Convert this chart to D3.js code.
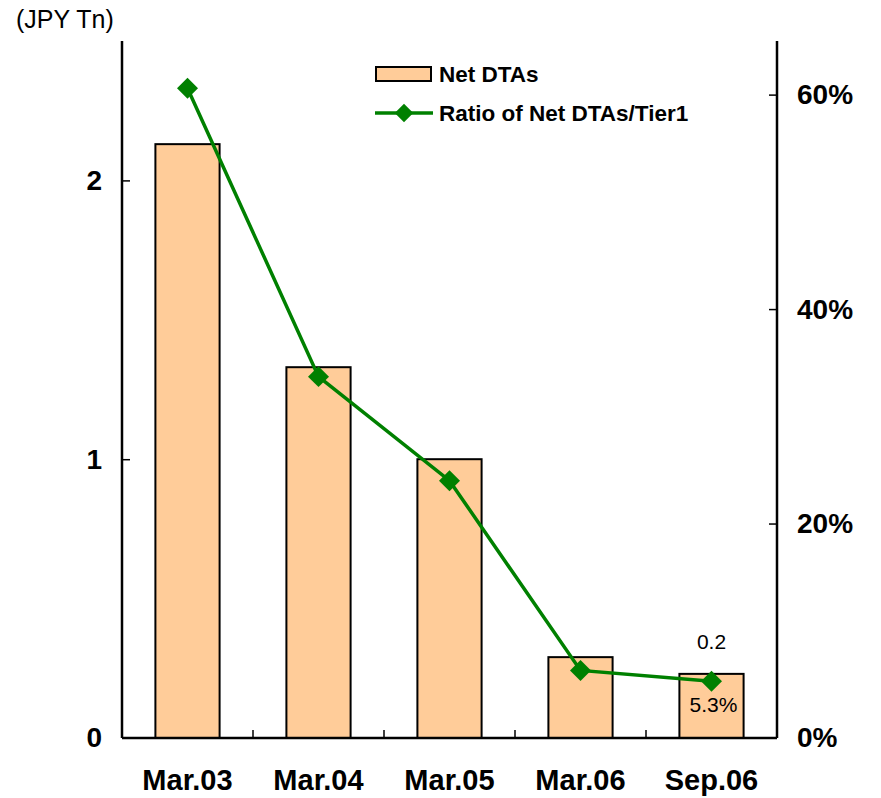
<!DOCTYPE html>
<html>
<head>
<meta charset="utf-8">
<script src="https://cdn.jsdelivr.net/npm/d3@7"></script>
<style>
	body { margin: 0; background: #fff; }
	svg { font-family: 'Liberation Sans', Arial, sans-serif; }
</style>
</head>
<body>
<div id="chart"></div>
<script>
const periods = ['Mar.03', 'Mar.04', 'Mar.05', 'Mar.06', 'Sep.06'];
const netDTAs = [2.13, 1.33, 1.0, 0.29, 0.23];
const ratioTier1 = [60.6, 33.7, 24.0, 6.3, 5.3];
const leftTicks = [0, 1, 2];
const rightTicks = [0, 20, 40, 60];

const width = 881;
const height = 798;
const margin = { top: 41, right: 104, bottom: 60, left: 122 };

const svg = d3
	.select('#chart')
	.append('svg')
	.attr('width', width)
	.attr('height', height);

const x = d3
	.scaleBand()
	.domain(periods)
	.range([margin.left, width - margin.right])
	.paddingInner(0.51)
	.paddingOuter(0.255);

const yLeft = d3
	.scaleLinear()
	.domain([0, 2.5])
	.range([height - margin.bottom, margin.top]);

const yRight = d3
	.scaleLinear()
	.domain([0, 65])
	.range([height - margin.bottom, margin.top]);

// bars
svg
	.selectAll('.bar')
	.data(periods)
	.join('rect')
	.attr('class', 'bar')
	.attr('x', (d) => x(d))
	.attr('y', (d, i) => yLeft(netDTAs[i]))
	.attr('width', x.bandwidth())
	.attr('height', (d, i) => yLeft(0) - yLeft(netDTAs[i]))
	.attr('fill', '#FFCC99')
	.attr('stroke', '#000')
	.attr('stroke-width', 2);

// left axis
const leftAxisG = svg
	.append('g')
	.attr('transform', `translate(${margin.left},0)`)
	.call(d3.axisLeft(yLeft).tickValues(leftTicks).tickSize(-8).tickPadding(20).tickFormat(d3.format('d')));

// right axis
const rightAxisG = svg
	.append('g')
	.attr('transform', `translate(${width - margin.right},0)`)
	.call(d3.axisRight(yRight).tickValues(rightTicks).tickSize(-8).tickPadding(20).tickFormat((d) => d + '%'));

[leftAxisG, rightAxisG].forEach((g) => {
	g.select('.domain').remove();
	g.selectAll('.tick line').attr('stroke', '#000').attr('stroke-width', 1.5);
	g.selectAll('.tick').filter((d) => d === 0).select('line').remove();
	g.selectAll('.tick text')
		.attr('fill', '#000')
		.style('font-size', '28px')
		.style('font-weight', 'bold');
});

svg
	.append('line')
	.attr('x1', margin.left)
	.attr('x2', margin.left)
	.attr('y1', margin.top)
	.attr('y2', yLeft(0))
	.attr('stroke', '#000')
	.attr('stroke-width', 2.5);
svg
	.append('line')
	.attr('x1', width - margin.right)
	.attr('x2', width - margin.right)
	.attr('y1', margin.top)
	.attr('y2', yLeft(0))
	.attr('stroke', '#000')
	.attr('stroke-width', 2.5);

// x axis baseline and separator ticks
svg
	.append('line')
	.attr('x1', margin.left)
	.attr('x2', width - margin.right)
	.attr('y1', yLeft(0))
	.attr('y2', yLeft(0))
	.attr('stroke', '#000')
	.attr('stroke-width', 2.5);

svg
	.selectAll('.sep')
	.data(periods.slice(1))
	.join('line')
	.attr('class', 'sep')
	.attr('x1', (d) => x(d) - (x.step() - x.bandwidth()) / 2)
	.attr('x2', (d) => x(d) - (x.step() - x.bandwidth()) / 2)
	.attr('y1', yLeft(0))
	.attr('y2', yLeft(0) - 8)
	.attr('stroke', '#000')
	.attr('stroke-width', 1.5);

svg
	.selectAll('.xlabel')
	.data(periods)
	.join('text')
	.attr('class', 'xlabel')
	.attr('x', (d) => x(d) + x.bandwidth() / 2)
	.attr('y', 790)
	.attr('text-anchor', 'middle')
	.style('font-size', '29px')
	.style('font-weight', 'bold')
	.text((d) => d);

// unit label
svg
	.append('text')
	.attr('x', 16)
	.attr('y', 28)
	.style('font-size', '25px')
	.text('(JPY Tn)');

// ratio line
const line = d3
	.line()
	.x((d, i) => x(periods[i]) + x.bandwidth() / 2)
	.y((d) => yRight(d));

svg
	.append('path')
	.datum(ratioTier1)
	.attr('fill', 'none')
	.attr('stroke', '#008000')
	.attr('stroke-width', 3.5)
	.attr('d', line);

svg
	.selectAll('.marker')
	.data(ratioTier1)
	.join('path')
	.attr('class', 'marker')
	.attr('transform', (d, i) => `translate(${x(periods[i]) + x.bandwidth() / 2},${yRight(d)}) rotate(45)`)
	.attr('d', d3.symbol().type(d3.symbolSquare).size(220))
	.attr('fill', '#008000');

// data labels on the last point
const last = periods.length - 1;
svg
	.append('text')
	.attr('x', x(periods[last]) + x.bandwidth() / 2)
	.attr('y', yLeft(netDTAs[last]) - 25)
	.attr('text-anchor', 'middle')
	.style('font-size', '21px')
	.text(netDTAs[last].toFixed(1));
svg
	.append('text')
	.attr('x', x(periods[last]) + x.bandwidth() / 2 + 2)
	.attr('y', yRight(ratioTier1[last]) + 31)
	.attr('text-anchor', 'middle')
	.style('font-size', '21px')
	.text(ratioTier1[last].toFixed(1) + '%');

// legend
const legend = svg.append('g').attr('transform', 'translate(375,0)');
legend
	.append('rect')
	.attr('x', 1)
	.attr('y', 67)
	.attr('width', 55)
	.attr('height', 14)
	.attr('fill', '#FFCC99')
	.attr('stroke', '#000')
	.attr('stroke-width', 2);
legend
	.append('text')
	.attr('x', 64)
	.attr('y', 82)
	.style('font-size', '22.5px')
	.style('font-weight', 'bold')
	.text('Net DTAs');
legend
	.append('line')
	.attr('x1', 0)
	.attr('x2', 58)
	.attr('y1', 113)
	.attr('y2', 113)
	.attr('stroke', '#008000')
	.attr('stroke-width', 3.5);
legend
	.append('path')
	.attr('transform', 'translate(29,113) rotate(45)')
	.attr('d', d3.symbol().type(d3.symbolSquare).size(170))
	.attr('fill', '#008000');
legend
	.append('text')
	.attr('x', 64)
	.attr('y', 121)
	.style('font-size', '22.5px')
	.style('font-weight', 'bold')
	.text('Ratio of Net DTAs/Tier1');
</script>
</body>
</html>
